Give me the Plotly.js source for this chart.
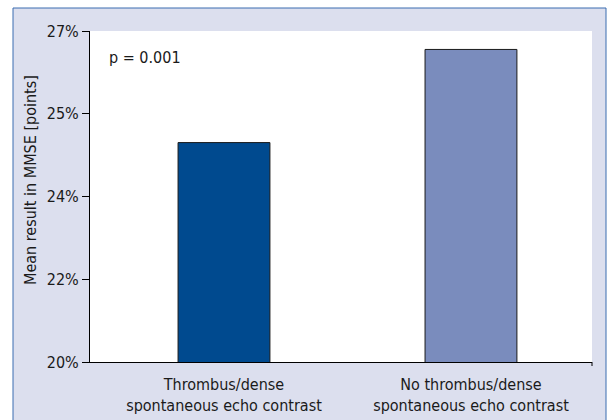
<!DOCTYPE html>
<html>
<head>
<meta charset="utf-8">
<script src="https://cdn.plot.ly/plotly-3.0.1.min.js"></script>
<style>html,body{margin:0;padding:0;background:#fff;}#chart{width:608px;height:420px;}</style>
</head>
<body>
<div id="chart"></div>
<script>
const categories = ["Thrombus/dense<br>spontaneous echo contrast", "No thrombus/dense<br>spontaneous echo contrast"];
const categoryIndex = [0, 1];
const meanMMSE = [24.64, 26.61];
const yTickValues = [20, 21.75, 23.5, 25.25, 27];
const yTickLabels = ["20%", "22%", "24%", "25%", "27%"];
const pValueText = "p = 0.001";
const yTitle = "Mean result in MMSE [points]";

const FONT = '"Liberation Sans Narrow", "DejaVu Sans Condensed", "Liberation Sans", sans-serif';

const trace = {
  type: "bar",
  x: categoryIndex,
  y: meanMMSE,
  width: 0.372,
  marker: {color: ["#004a8f", "#7a8cbd"], line: {color: "#1a1a1a", width: 1}},
  hoverinfo: "skip",
  cliponaxis: true
};

const layout = {
  width: 608, height: 420,
  margin: {l: 90, r: 16, t: 31, b: 58},
  paper_bgcolor: "#ffffff",
  plot_bgcolor: "rgba(0,0,0,0)",
  showlegend: false,
  font: {family: FONT, size: 16, color: "#1a1a1a"},
  xaxis: {
    range: [-0.5425, 1.49],
    tickvals: categoryIndex,
    ticktext: categories,
    ticks: "",
    ticklabelstandoff: 8,
    showline: true, linecolor: "#000", linewidth: 1,
    showgrid: false, zeroline: false,
    fixedrange: true,
    tickfont: {family: FONT, size: 16, color: "#1a1a1a"}
  },
  yaxis: {
    range: [20, 27],
    tickvals: yTickValues,
    ticktext: yTickLabels,
    ticks: "outside", ticklen: 7, tickcolor: "#000", tickwidth: 1,
    showline: true, linecolor: "#000", linewidth: 1,
    showgrid: false, zeroline: false,
    fixedrange: true,
    tickfont: {family: FONT, size: 16, color: "#1a1a1a"}
  },
  shapes: [
    {type: "rect", xref: "paper", yref: "paper", layer: "below",
     x0: (13 - 90) / 502, x1: (606 - 90) / 502, y0: (362 - 440) / 331, y1: (362 - 8) / 331,
     fillcolor: "#dcdfee", line: {color: "#3a6db0", width: 1}},
    {type: "rect", xref: "paper", yref: "paper", layer: "below",
     x0: 0, x1: 1, y0: 0, y1: 1, fillcolor: "#ffffff", line: {width: 0}},
    {type: "line", xref: "paper", yref: "paper",
     x0: 1, x1: 1, y0: 0, y1: -4 / 331, line: {color: "#000", width: 1}}
  ],
  annotations: [
    {text: pValueText, xref: "paper", yref: "paper",
     x: (107 - 90) / 502, y: (362 - 57) / 331, xanchor: "left", yanchor: "middle",
     showarrow: false, font: {family: FONT, size: 16, color: "#1a1a1a"}},
    {text: yTitle, xref: "paper", yref: "paper", textangle: -90,
     x: (30 - 90) / 502, y: (362 - 180) / 331, xanchor: "center", yanchor: "middle",
     showarrow: false, font: {family: FONT, size: 16, color: "#1a1a1a"}}
  ]
};

Plotly.newPlot("chart", [trace], layout, {displayModeBar: false, staticPlot: true});
</script>
</body>
</html>
